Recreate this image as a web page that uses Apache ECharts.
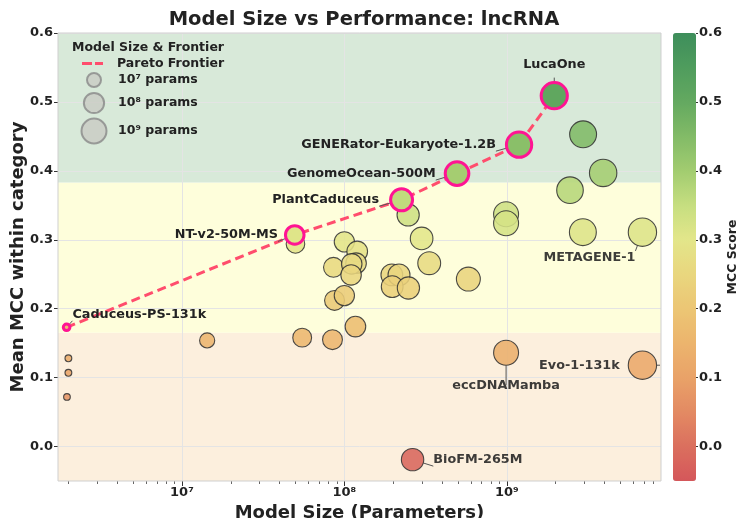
<!DOCTYPE html>
<html><head><meta charset="utf-8">
<script src="https://cdn.jsdelivr.net/npm/echarts@6/dist/echarts.min.js"></script>
<style>html,body{margin:0;padding:0;background:#fff}#c{width:737px;height:518px}</style>
</head><body><div id="c"></div>
<script>
// ---------------- data ----------------
const modelNames = ['', '', '', '', '', '', '', '', '', '', '', '', '', '', '', '', '', '', '', '', '', '', '', '', '', '', '', 'METAGENE-1', '', '', '', 'eccDNAMamba', 'Evo-1-131k', 'BioFM-265M'];
const modelSizes = [2.0e6, 2.0e6, 1.96e6, 1.43e7, 5.5e7, 8.45e7, 1.17e8, 8.7e7, 1.0e8, 8.57e7, 1.0e8, 1.2e8, 1.18e8, 1.11e8, 1.1e8, 5.0e7, 1.96e8, 2.17e8, 1.97e8, 2.48e8, 2.47e8, 2.99e8, 3.33e8, 5.8e8, 9.9e8, 9.9e8, 2.94e9, 6.84e9, 2.95e9, 3.92e9, 2.45e9, 9.9e8, 6.84e9, 2.63e8];
const mccValues = [0.128, 0.107, 0.072, 0.154, 0.158, 0.155, 0.174, 0.212, 0.219, 0.260, 0.297, 0.283, 0.266, 0.265, 0.249, 0.294, 0.249, 0.249, 0.232, 0.230, 0.336, 0.302, 0.266, 0.243, 0.337, 0.324, 0.311, 0.311, 0.453, 0.397, 0.372, 0.136, 0.118, -0.019];

const frontierNames = ['Caduceus-PS-131k', 'NT-v2-50M-MS', 'PlantCaduceus', 'GenomeOcean-500M', 'GENERator-Eukaryote-1.2B', 'LucaOne'];
const frontierSizes = [1.95e6, 4.95e7, 2.25e8, 4.94e8, 1.19e9, 1.96e9];
const frontierMcc = [0.173, 0.307, 0.358, 0.396, 0.438, 0.509];

const bandEdges = [-0.05, 0.165, 0.383, 0.6];
const yTicks = [0, 0.1, 0.2, 0.3, 0.4, 0.5, 0.6];
const cbTicks = [0, 0.1, 0.2, 0.3, 0.4, 0.5, 0.6];
const xTicks = [1e7, 1e8, 1e9];
const xTickLabels = ['10\u2077', '10\u2078', '10\u2079'];
const xMinorTicks = [2e6,3e6,4e6,5e6,6e6,7e6,8e6,9e6,2e7,3e7,4e7,5e7,6e7,7e7,8e7,9e7,2e8,3e8,4e8,5e8,6e8,7e8,8e8,9e8,2e9,3e9,4e9,5e9,6e9,7e9,8e9];
const legendSizes = [1e7, 1e8, 1e9];
const legendLabels = ['10\u2077 params', '10\u2078 params', '10\u2079 params'];

// ---------------- styles ----------------
const FONT = 'DejaVu Sans';
const TXT = '#222';
const bandColors = ['#fcefdd', '#fefedb', '#d8e9d9'];
const cmap = ['#d4575a','#db6f5e','#e38a63','#e9a268','#ecb46d','#ecc674','#e9d67e','#e3e68a','#c6de80','#a2cc70','#82bb67','#64a960','#4f9c5d','#3e8e5b'];
const labelStyles = {
  'LucaOne': {position: 'top', distance: 10},
  'GENERator-Eukaryote-1.2B': {position: 'left', distance: 9},
  'GenomeOcean-500M': {position: 'left', distance: 8},
  'PlantCaduceus': {position: 'left', distance: 10},
  'NT-v2-50M-MS': {position: 'left', distance: 6},
  'Caduceus-PS-131k': {position: 'right', distance: 1, offset: [0, -13]},
  'METAGENE-1': {position: 'bottom', distance: 4, offset: [-53, 0]},
  'Evo-1-131k': {position: 'left', distance: 8},
  'eccDNAMamba': {position: 'bottom', distance: 13},
  'BioFM-265M': {position: 'right', distance: 9}
};
function sizeFor(p) { return Math.sqrt(Math.max(20, 196 + 214 * (Math.log10(p) - 7))); }

function makeItem(name, size, mcc) {
  const item = {value: [size, mcc], name: name};
  if (name && labelStyles[name]) {
    item.label = Object.assign({show: true}, labelStyles[name]);
    item.labelLine = {show: true, lineStyle: {color: '#555', width: 1}};
  }
  return item;
}

const mainData = modelSizes.map((s, i) => makeItem(modelNames[i], s, mccValues[i]));
const frontData = frontierSizes.map((s, i) => makeItem(frontierNames[i], s, frontierMcc[i]));
const lineData = frontierSizes.map((s, i) => [s, frontierMcc[i]]);

const labelText = {fontFamily: FONT, fontWeight: 'bold', fontSize: 12.8, color: TXT};
const legendText = {fontFamily: FONT, fontWeight: 'bold', fontSize: 12.5, color: TXT};

const bandAreas = [];
for (let i = 0; i < bandColors.length; i++) {
  bandAreas.push([{yAxis: bandEdges[i], itemStyle: {color: bandColors[i]}}, {yAxis: bandEdges[i + 1]}]);
}

const legendSeries = legendLabels.map(function (lbl) {
  return {name: lbl, type: 'scatter', data: [], symbol: 'circle',
    itemStyle: {color: '#c9cac3', borderColor: '#888', borderWidth: 1}};
});

const legends = [{
  data: [{name: 'Pareto Frontier', icon: 'path://M0,0H10V3H0Z M13,0H21V3H13Z'}],
  left: 82, top: 57, itemWidth: 21, itemHeight: 3, padding: 0,
  itemStyle: {color: '#ff4d6d', borderWidth: 0},
  textStyle: Object.assign({padding: [0, 0, 0, 9]}, legendText)
}];
const legPad = [12, 9, 6.5];
const legCenterY = [79, 102, 130];
legendLabels.forEach(function (lbl, i) {
  const d = sizeFor(legendSizes[i]);
  legends.push({
    data: [lbl], left: 93 - d / 2, top: legCenterY[i] - d / 2, itemWidth: d, itemHeight: d, padding: 0,
    textStyle: Object.assign({padding: [0, 0, 0, legPad[i]]}, legendText)
  });
});

const chart = echarts.init(document.getElementById('c'), null, {width: 737, height: 518});
chart.setOption({
  animation: false,
  backgroundColor: '#fff',
  textStyle: {fontFamily: FONT},
  title: [
    {text: 'Model Size vs Performance: lncRNA', left: 359, top: 5, textAlign: 'center',
      textStyle: {fontFamily: FONT, fontWeight: 'bold', fontSize: 19.5, color: TXT}},
    {text: 'Model Size & Frontier', left: 72, top: 41, padding: 0,
      textStyle: {fontFamily: FONT, fontWeight: 'bold', fontSize: 12.5, color: TXT}}
  ],
  legend: legends,
  grid: [
    {left: 58, right: 76, top: 33, bottom: 37, show: true, z: 4, borderColor: '#cfcfcf', borderWidth: 1,
      backgroundColor: 'transparent', containLabel: false, outerBoundsMode: 'none'},
    {left: 673, width: 23, top: 33, height: 448, show: false, containLabel: false, outerBoundsMode: 'none'}
  ],
  xAxis: [
    {type: 'log', logBase: 10, min: 1.726e6, max: 8.9e9, gridIndex: 0, position: 'bottom', z: 3,
      axisLine: {show: false, onZero: false},
      axisTick: {show: true, length: 5, customValues: xTicks, lineStyle: {color: '#333'}},
      axisLabel: {customValues: xTicks, margin: 5, fontFamily: FONT, fontWeight: 'bold', fontSize: 13, color: TXT,
        formatter: function (v) { for (let i = 0; i < xTicks.length; i++) { if (Math.abs(Math.log10(v) - Math.log10(xTicks[i])) < 1e-6) return xTickLabels[i]; } return ''; }},
      splitLine: {show: true, lineStyle: {color: '#e4e4e4', width: 1}},
      name: 'Model Size (Parameters)', nameLocation: 'middle', nameGap: 20,
      nameTextStyle: {fontFamily: FONT, fontWeight: 'bold', fontSize: 18, color: TXT}},
    {type: 'log', logBase: 10, min: 1.726e6, max: 8.9e9, gridIndex: 0, position: 'bottom', z: 3,
      axisLine: {show: false, onZero: false},
      axisTick: {show: true, length: 3, customValues: xMinorTicks, lineStyle: {color: '#666'}},
      axisLabel: {show: false}, splitLine: {show: false}},
    {type: 'value', gridIndex: 1, min: 0, max: 1, show: false, axisLine: {onZero: false}}
  ],
  yAxis: [
    {type: 'value', min: -0.05, max: 0.6, gridIndex: 0, z: 3,
      axisLine: {show: false, onZero: false},
      axisTick: {show: true, length: 4, customValues: yTicks, lineStyle: {color: '#333'}},
      axisLabel: {customValues: yTicks, margin: 5, fontFamily: FONT, fontWeight: 'bold', fontSize: 13, color: TXT,
        formatter: function (v) { return v.toFixed(1); }},
      splitLine: {show: true, lineStyle: {color: '#e4e4e4', width: 1}},
      name: 'Mean MCC within category', nameLocation: 'middle', nameGap: 31, nameMoveOverlap: false,
      nameTextStyle: {fontFamily: FONT, fontWeight: 'bold', fontSize: 18, color: TXT}},
    {type: 'value', min: -0.05, max: 0.6, gridIndex: 1, position: 'right',
      axisLine: {show: false, onZero: false},
      axisTick: {show: true, length: 2, customValues: cbTicks, lineStyle: {color: '#333'}},
      axisLabel: {customValues: cbTicks, margin: 3, fontFamily: FONT, fontWeight: 'bold', fontSize: 13, color: TXT,
        formatter: function (v) { return v.toFixed(1); }},
      splitLine: {show: false},
      name: 'MCC Score', nameLocation: 'middle', nameGap: 27, nameRotate: 90,
      nameTextStyle: {fontFamily: FONT, fontWeight: 'bold', fontSize: 12.5, color: TXT}}
  ],
  visualMap: {
    type: 'continuous', min: -0.05, max: 0.6, dimension: 1, seriesIndex: [2, 3],
    left: 673, top: 33, itemWidth: 23, itemHeight: 448, padding: 0,
    calculable: false, realtime: false, text: null, hoverLink: false,
    inRange: {color: cmap}
  },
  series: [
    {type: 'scatter', name: 'bands', data: [], z: 1, silent: true,
      markArea: {silent: true, data: bandAreas}},
    {type: 'line', name: 'Pareto Frontier', data: lineData, symbol: 'none', z: 4,
      lineStyle: {color: '#ff4d6d', width: 3, type: [9, 5]}, itemStyle: {color: '#ff4d6d'}},
    {type: 'scatter', name: 'models', data: mainData, z: 5,
      symbolSize: function (v) { return sizeFor(v[0]); },
      itemStyle: {opacity: 0.88, borderColor: '#333', borderWidth: 1.1},
      label: Object.assign({show: false, formatter: '{b}'}, labelText),
      labelLine: {show: false}},
    {type: 'scatter', name: 'frontier', data: frontData, z: 6,
      symbolSize: function (v) { return sizeFor(v[0]); },
      itemStyle: {opacity: 1, borderColor: '#ff1493', borderWidth: 3},
      label: Object.assign({show: false, formatter: '{b}'}, labelText),
      labelLine: {show: false}},
    legendSeries[0], legendSeries[1], legendSeries[2],
    {type: 'scatter', name: 'cb', data: [], xAxisIndex: 2, yAxisIndex: 1}
  ]
});
</script></body></html>
